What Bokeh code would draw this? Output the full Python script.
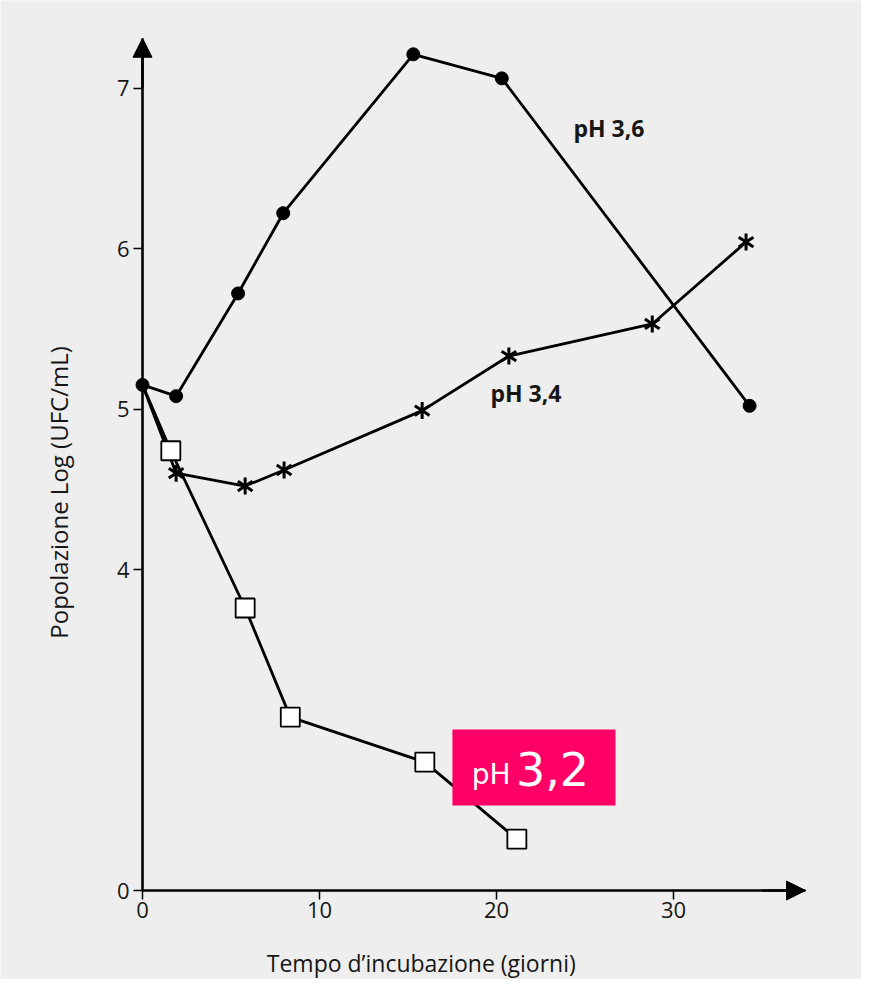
from bokeh.plotting import figure
from bokeh.models import (Range1d, FixedTicker, Label, BoxAnnotation, Arrow, NormalHead)
from bokeh.embed import file_html
from bokeh.resources import INLINE

# Days of incubation and population (log UFC/mL).
# Y axis is broken: the tick labelled "0" sits at plot position 2.
days_36 = [0, 1.9, 5.4, 7.95, 15.3, 20.3, 34.3]
pop_36 = [5.15, 5.08, 5.72, 6.22, 7.21, 7.06, 5.02]

days_34 = [0, 1.9, 5.8, 8.0, 15.8, 20.7, 28.8, 34.1]
pop_34 = [5.15, 4.60, 4.52, 4.62, 4.99, 5.33, 5.53, 6.04]

days_32 = [0, 1.6, 5.8, 8.35, 15.95, 21.15]
pop_32 = [5.15, 4.74, 3.76, 3.08, 2.80, 2.32]

x_ticks = [0, 10, 20, 30]
y_ticks = [2, 4, 5, 6, 7]
y_tick_labels = {2: "0", 4: "4", 5: "5", 6: "6", 7: "7"}

BG = "#eeeeee"
FONT = "Open Sans"
INK = "#161616"

XPX = 17.7     # pixels per day
YPX = 160.5    # pixels per log unit
W, H = 861, 979
X0, Y0 = 142, 890   # pixel position of the origin

p = figure(width=W, height=H, output_backend="svg", toolbar_location=None,
           x_range=Range1d(-X0 / XPX, (W - X0) / XPX),
           y_range=Range1d(2 - (H - Y0) / YPX, 2 + Y0 / YPX),
           min_border=0)
p.frame_width = W
p.frame_height = H
p.background_fill_color = BG
p.border_fill_color = BG
p.outline_line_color = None
p.grid.visible = False

x_end = 37.46
y_end = 7.31

for ax in (p.xaxis[0], p.yaxis[0]):
    ax.axis_line_width = 2.6
    ax.axis_line_color = "black"
    ax.major_tick_line_width = 1.5
    ax.major_tick_line_color = "black"
    ax.major_tick_out = 9
    ax.major_tick_in = 0
    ax.minor_tick_line_color = None
    ax.major_label_text_font = FONT
    ax.major_label_text_font_size = "22px"
    ax.major_label_text_color = INK

p.xaxis.fixed_location = 2
p.xaxis.bounds = (0, x_end)
p.xaxis.ticker = FixedTicker(ticks=x_ticks)
p.xaxis.major_label_standoff = 2
p.yaxis.fixed_location = 0
p.yaxis.bounds = (2, y_end)
p.yaxis.ticker = FixedTicker(ticks=y_ticks)
p.yaxis.major_label_overrides = y_tick_labels
p.yaxis.major_label_standoff = 4

# arrow heads on axes
p.add_layout(Arrow(end=NormalHead(size=19, fill_color="black", line_color="black"),
                   x_start=0, y_start=7.0, x_end=0, y_end=y_end,
                   line_width=2.6, line_color="black"))
p.add_layout(Arrow(end=NormalHead(size=19, fill_color="black", line_color="black"),
                   x_start=35, y_start=2, x_end=x_end, y_end=2,
                   line_width=2.6, line_color="black"))

# series
p.line(days_36, pop_36, line_color="black", line_width=2.8)
p.scatter(days_36, pop_36, marker="circle", size=13, fill_color="black", line_color="black")

p.line(days_34, pop_34, line_color="black", line_width=2.8)
p.scatter(days_34[1:], pop_34[1:], marker="y", size=17, line_color="black", line_width=3)
p.scatter(days_34[1:], pop_34[1:], marker="y", size=17, angle=3.14159,
          line_color="black", line_width=3)

p.line(days_32, pop_32, line_color="black", line_width=2.8)
p.scatter(days_32[1:], pop_32[1:], marker="square", size=19, fill_color="white",
          line_color="black", line_width=1.8)

# series labels
p.add_layout(Label(x=24.35, y=6.75, text="pH 3,6", text_font=FONT, text_font_style="bold",
                   text_font_size="23px", text_color=INK, text_baseline="middle"))
p.add_layout(Label(x=19.66, y=5.10, text="pH 3,4", text_font=FONT, text_font_style="bold",
                   text_font_size="23px", text_color=INK, text_baseline="middle"))

p.add_layout(BoxAnnotation(left=17.51, right=26.72, bottom=2.53, top=3.003,
                           fill_color="#ff0066", fill_alpha=1.0, line_color=None))
p.add_layout(Label(x=18.6, y=2.72, text="pH", text_font="DejaVu Sans",
                   text_font_size="28px", text_color="white", text_baseline="middle"))
p.add_layout(Label(x=21.1, y=2.76, text="3,2", text_font="DejaVu Sans",
                   text_font_size="46px", text_color="white", text_baseline="middle"))

# axis titles
p.add_layout(Label(x=-4.75, y=4.48, text="Popolazione Log (UFC/mL)", angle=1.5708,
                   text_font=FONT, text_font_size="24px", text_color=INK,
                   text_align="center", text_baseline="middle"))
p.add_layout(Label(x=15.75, y=2 - 72 / YPX, text="Tempo d\u2019incubazione (giorni)",
                   text_font=FONT, text_font_size="23px", text_color=INK,
                   text_align="center", text_baseline="middle"))

open("out.html", "w").write(file_html(p, INLINE))
